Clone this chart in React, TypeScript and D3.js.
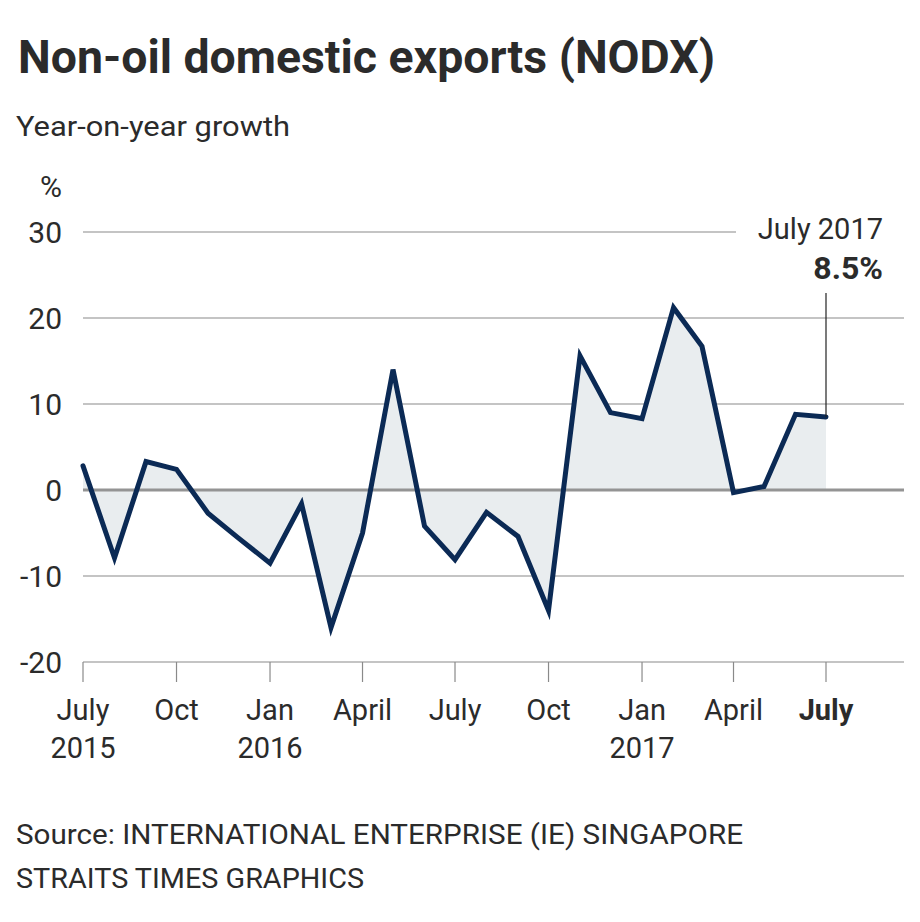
import React from "react";
import * as d3 from "d3";

const months: string[] = [
  "2015-07","2015-08","2015-09","2015-10","2015-11","2015-12",
  "2016-01","2016-02","2016-03","2016-04","2016-05","2016-06",
  "2016-07","2016-08","2016-09","2016-10","2016-11","2016-12",
  "2017-01","2017-02","2017-03","2017-04","2017-05","2017-06","2017-07",
];
const growth: number[] = [
  2.8, -7.9, 3.3, 2.4, -2.7, -5.6,
  -8.5, -1.6, -16.0, -5.0, 14.0, -4.2,
  -8.1, -2.6, -5.4, -14.0, 15.6, 9.0,
  8.3, 21.2, 16.7, -0.3, 0.4, 8.8, 8.5,
];
const yTicks: number[] = [30, 20, 10, 0, -10, -20];
const xTickMonths: string[] = ["2015-07","2015-10","2016-01","2016-04","2016-07","2016-10","2017-01","2017-04","2017-07"];
const xTickLabels: string[] = ["July","Oct","Jan","April","July","Oct","Jan","April","July"];
const xTickYears: string[] = ["2015","","2016","","","","2017","",""];

const parse = d3.timeParse("%Y-%m");
const FONT = "Roboto, 'Open Sans', sans-serif";

export default function App() {
  const W = 920, H = 922;
  const x = d3.scaleTime()
    .domain([parse("2015-07")!, parse("2017-07")!])
    .range([83, 826]);
  const y = d3.scaleLinear().domain([-20, 30]).range([662, 232]);
  const data = months.map((m, i) => ({ d: parse(m)!, v: growth[i] }));
  const line = d3.line<{ d: Date; v: number }>().x(p => x(p.d)).y(p => y(p.v));
  const area = d3.area<{ d: Date; v: number }>().x(p => x(p.d)).y0(y(0)).y1(p => y(p.v));
  const last = data[data.length - 1];
  const gridRight = 904;

  return (
    <svg width={W} height={H} style={{ position: "absolute", left: 0, top: 0, background: "#fff" }}>
      <rect x={0} y={0} width={W} height={H} fill="#fff" />
      <text x={18} y={73} fontFamily={FONT} fontWeight={700} fontSize={47} fill="#2b2b2b"
        textLength={697} lengthAdjust="spacingAndGlyphs">Non-oil domestic exports (NODX)</text>
      <text x={16} y={136} fontFamily={FONT} fontSize={28} fill="#2b2b2b"
        textLength={274} lengthAdjust="spacingAndGlyphs">Year-on-year growth</text>
      <text x={62} y={197} fontFamily={FONT} fontSize={30} fill="#2b2b2b" textAnchor="end">%</text>

      {yTicks.map(t => (
        <g key={t}>
          {t !== 0 && (
            <line x1={83} x2={t === 30 ? 736 : gridRight} y1={y(t)} y2={y(t)} stroke="#8a8a8a" strokeWidth={1.2} />
          )}
          <text x={62} y={y(t) + 11} fontFamily={FONT} fontSize={30} fill="#2b2b2b" textAnchor="end">{t}</text>
        </g>
      ))}

      <path d={area(data)!} fill="#e9edef" />
      <line x1={83} x2={gridRight} y1={y(0)} y2={y(0)} stroke="#949494" strokeWidth={3} />

      {xTickMonths.map((m, i) => {
        const xx = x(parse(m)!);
        return (
          <g key={m}>
            <line x1={xx} x2={xx} y1={662} y2={682} stroke="#8a8a8a" strokeWidth={1.2} />
            <text x={xx} y={720} fontFamily={FONT} fontSize={29} fill="#2b2b2b" textAnchor="middle"
              fontWeight={i === xTickMonths.length - 1 ? 700 : 400}>{xTickLabels[i]}</text>
            {xTickYears[i] && (
              <text x={xx} y={758} fontFamily={FONT} fontSize={29} fill="#2b2b2b" textAnchor="middle">{xTickYears[i]}</text>
            )}
          </g>
        );
      })}

      <path d={line(data)!} fill="none" stroke="#0b2a55" strokeWidth={5} strokeLinejoin="miter" strokeLinecap="round" />

      <line x1={x(last.d)} x2={x(last.d)} y1={293} y2={y(last.v)} stroke="#222" strokeWidth={1.2} />
      <text x={883} y={239} fontFamily={FONT} fontSize={29} fill="#2b2b2b" textAnchor="end">July 2017</text>
      <text x={883} y={279} fontFamily={FONT} fontSize={32} fontWeight={700} fill="#2b2b2b" textAnchor="end">{`${last.v}%`}</text>

      <text x={16} y={844} fontFamily={FONT} fontSize={27} fill="#2b2b2b"
        textLength={727} lengthAdjust="spacingAndGlyphs">Source: INTERNATIONAL ENTERPRISE (IE) SINGAPORE</text>
      <text x={16} y={888} fontFamily={FONT} fontSize={27} fill="#2b2b2b"
        textLength={348} lengthAdjust="spacingAndGlyphs">STRAITS TIMES GRAPHICS</text>
    </svg>
  );
}
